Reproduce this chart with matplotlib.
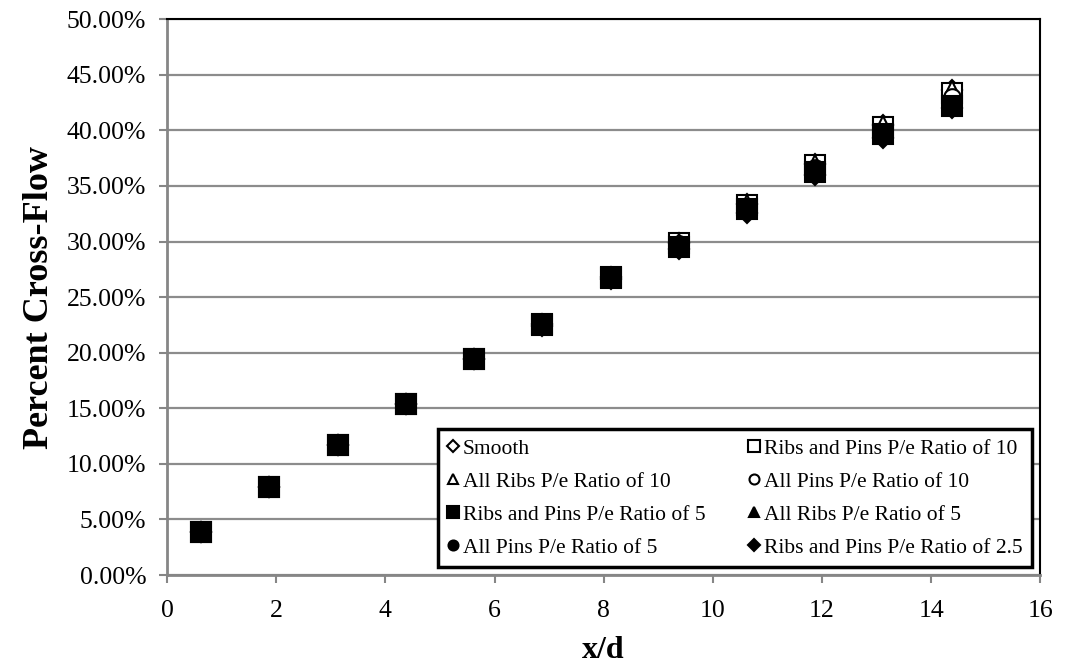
import matplotlib
matplotlib.use("Agg")
import matplotlib.pyplot as plt
from matplotlib.ticker import FuncFormatter, MultipleLocator

plt.rcParams['font.family'] = ['Liberation Serif', 'DejaVu Serif']

x_d = [0.625, 1.875, 3.125, 4.375, 5.625, 6.875, 8.125, 9.375, 10.625, 11.875, 13.125, 14.375]

smooth = [3.9, 7.9, 11.7, 15.4, 19.4, 22.6, 26.8, 29.9, 33.4, 37.0, 40.5, 43.6]
ribs_pins_10 = [3.9, 7.9, 11.7, 15.4, 19.4, 22.6, 26.8, 29.9, 33.3, 36.9, 40.3, 43.4]
all_ribs_10 = [3.9, 7.9, 11.7, 15.4, 19.4, 22.6, 26.8, 30.0, 33.5, 37.1, 40.6, 43.7]
all_pins_10 = [3.9, 7.9, 11.7, 15.4, 19.4, 22.5, 26.7, 29.8, 33.1, 36.6, 39.9, 43.0]
ribs_pins_5 = [3.9, 7.9, 11.7, 15.4, 19.4, 22.5, 26.7, 29.5, 32.9, 36.3, 39.7, 42.2]
all_ribs_5 = [3.9, 7.9, 11.7, 15.4, 19.4, 22.5, 26.7, 29.6, 33.0, 36.4, 39.8, 42.4]
all_pins_5 = [3.9, 7.9, 11.7, 15.4, 19.4, 22.5, 26.7, 29.5, 32.9, 36.3, 39.6, 42.3]
ribs_pins_25 = [3.9, 7.9, 11.7, 15.4, 19.4, 22.4, 26.6, 29.3, 32.6, 36.0, 39.3, 42.0]

# (label, values, marker, face colour, marker size)
series = [
    ("Smooth", smooth, 'D', 'white', 10),
    ("Ribs and Pins P/e Ratio of 10", ribs_pins_10, 's', 'white', 15),
    ("All Ribs P/e Ratio of 10", all_ribs_10, '^', 'white', 12),
    ("All Pins P/e Ratio of 10", all_pins_10, 'o', 'white', 12),
    ("Ribs and Pins P/e Ratio of 5", ribs_pins_5, 's', 'black', 15),
    ("All Ribs P/e Ratio of 5", all_ribs_5, '^', 'black', 12),
    ("All Pins P/e Ratio of 5", all_pins_5, 'o', 'black', 12),
    ("Ribs and Pins P/e Ratio of 2.5", ribs_pins_25, 'D', 'black', 10),
]

fig = plt.figure(figsize=(10.78, 6.64), dpi=100)
ax = fig.add_axes([0.155, 0.134, 0.81, 0.837])

handles = []
for label, vals, mk, fc, ms in series:
    h, = ax.plot(x_d, [v / 100 for v in vals], linestyle='none', marker=mk,
                 markersize=ms, markerfacecolor=fc, markeredgecolor='black',
                 markeredgewidth=1.5, label=label, zorder=3)
    handles.append(h)

ax.set_xlim(0, 16)
ax.set_ylim(0, 0.5)
ax.xaxis.set_major_locator(MultipleLocator(2))
ax.yaxis.set_major_locator(MultipleLocator(0.05))
ax.yaxis.set_major_formatter(FuncFormatter(lambda v, p: f"{v * 100:.2f}%"))

ax.grid(axis='y', color='#8c8c8c', linewidth=1.6, zorder=0)
ax.set_axisbelow(True)

grey = '#868686'
for side in ('left', 'bottom'):
    ax.spines[side].set_color(grey)
    ax.spines[side].set_linewidth(2)
for side in ('top', 'right'):
    ax.spines[side].set_color('black')
    ax.spines[side].set_linewidth(1.5)

ax.tick_params(axis='both', direction='out', length=6, width=1.5, color=grey,
               labelsize=18.5)
ax.tick_params(axis='x', pad=12)
ax.tick_params(axis='y', pad=9)

ax.set_xlabel("x/d", fontsize=23, fontweight='bold', labelpad=10)
ax.set_ylabel("Percent Cross-Flow", fontsize=26, fontweight='bold', labelpad=8)

# legend entries read row by row across two columns
order = [0, 2, 4, 6, 1, 3, 5, 7]
leg = ax.legend([handles[i] for i in order], [series[i][0] for i in order],
                loc='lower left', bbox_to_anchor=(0.31, 0.014, 0.681, 0.257),
                mode='expand', ncol=2, fontsize=15.5, frameon=True, fancybox=False,
                handlelength=0.5, handletextpad=0.2, markerscale=0.6,
                borderaxespad=0, columnspacing=0.5, labelspacing=0.6,
                borderpad=0.45)
leg.get_frame().set_edgecolor('black')
leg.get_frame().set_linewidth(2.5)
leg.get_frame().set_alpha(1)
leg.set_zorder(5)

fig.savefig("out.png", dpi=100)
